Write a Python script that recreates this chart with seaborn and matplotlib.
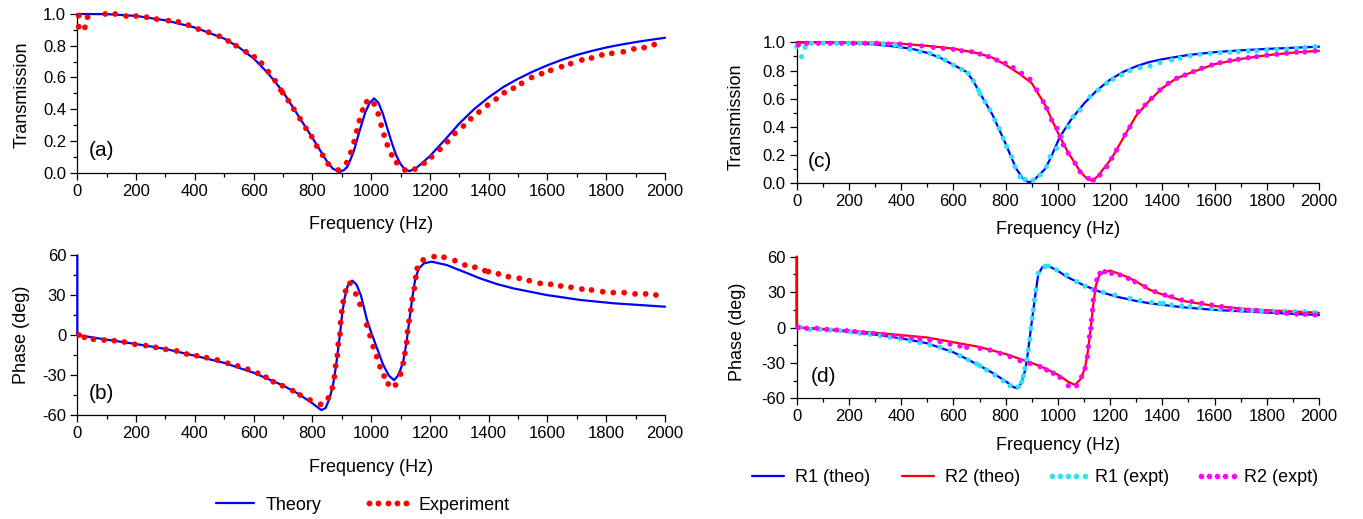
import numpy as np
import pandas as pd
import matplotlib
matplotlib.use("Agg")
import matplotlib.pyplot as plt
from matplotlib.lines import Line2D
from matplotlib.ticker import MultipleLocator
import seaborn as sns

# ---------------- data ----------------
# (a) transmission
fa_theo = [0,100,200,300,400,500,550,600,650,700,750,800,850,870,893,910,920,940,960,980,995,1010,1025,1040,1055,1070,1085,1100,1115,1130,1150,1170,1200,1250,1300,1350,1400,1450,1500,1550,1600,1650,1700,1750,1800,1850,1900,1950,2000]
ta_theo = [1.0,0.999,0.988,0.96,0.915,0.845,0.79,0.72,0.625,0.51,0.365,0.22,0.07,0.025,0.004,0.02,0.04,0.13,0.26,0.38,0.44,0.468,0.44,0.37,0.28,0.19,0.11,0.055,0.02,0.01,0.025,0.055,0.105,0.205,0.31,0.40,0.475,0.54,0.592,0.637,0.677,0.712,0.742,0.767,0.789,0.807,0.823,0.837,0.85]
fa_exp = [5,5,26,35,95,129,166,200,236,270,310,344,378,412,447,483,514,540,574,602,627,650,673,693,699,718,737,758,778,798,815,835,854,888,917,931,942,951,960,971,985,1010,1024,1034,1044,1055,1070,1087,1115,1149,1180,1206,1234,1260,1285,1314,1339,1367,1396,1425,1453,1484,1512,1546,1580,1611,1648,1679,1717,1750,1785,1819,1858,1894,1929,1963]
ta_exp = [0.99,0.92,0.916,0.98,1.0,1.0,0.987,0.987,0.98,0.968,0.958,0.95,0.93,0.905,0.885,0.86,0.83,0.80,0.762,0.73,0.69,0.636,0.58,0.52,0.504,0.454,0.40,0.34,0.28,0.227,0.168,0.11,0.055,0.017,0.063,0.128,0.195,0.263,0.328,0.395,0.447,0.433,0.37,0.30,0.237,0.175,0.112,0.063,0.017,0.023,0.059,0.10,0.147,0.195,0.248,0.294,0.34,0.382,0.425,0.464,0.504,0.532,0.563,0.60,0.624,0.645,0.668,0.687,0.71,0.723,0.742,0.752,0.762,0.78,0.788,0.807]

# (b) phase
fb_theo = [0,0,100,200,300,400,500,600,700,750,800,830,845,858,870,880,888,895,902,910,920,935,950,965,985,1000,1020,1040,1060,1078,1090,1100,1110,1120,1130,1140,1150,1162,1180,1206,1257,1314,1370,1427,1484,1597,1711,1824,2000]
pb_theo = [60,0,-3.5,-6.8,-10.5,-15.6,-21,-28.4,-38,-44,-51.4,-56.5,-55,-48,-38,-24,-10,3,17,28,37,41,38,30,12,2,-10,-22,-30.5,-34,-31,-26,-19,-6,11,28,42,50,54,55.2,52.7,47.7,42.7,38.4,35.1,30.1,26.4,23.9,21.3]
fb_exp = [6,24,55,91,126,160,196,233,267,301,338,372,406,440,476,512,546,580,614,642,667,698,733,758,792,828,854,868,875,879,885,888,894,896,900,905,913,928,948,962,985,996,1007,1019,1030,1044,1058,1083,1100,1109,1115,1121,1124,1129,1135,1140,1147,1152,1157,1177,1214,1248,1285,1319,1353,1387,1399,1433,1467,1504,1538,1575,1611,1645,1680,1717,1750,1788,1824,1861,1898,1934,1969]
pb_exp = [0,-1.7,-3.2,-3.8,-4.3,-5.3,-7,-8,-9.3,-10.8,-12,-14.3,-15.6,-17.1,-18.8,-21.3,-23.3,-25.8,-28.8,-31.8,-35.2,-38.2,-41.9,-45.2,-48.9,-52.2,-47.4,-39.7,-31.4,-23.3,-15.3,-7,0.8,9.3,17.6,25.1,33.1,38.9,30.9,23.1,7.5,-0.5,-8.8,-16.3,-23.9,-30.9,-36.9,-37.6,-29.4,-21.3,-13.8,-5.5,2.5,10.5,18.8,26.9,35.1,43.4,50.2,56.5,59,58.5,56,52.7,51,48.4,47.7,46,43.9,42.7,40.9,38.9,38.2,36.9,35.9,34.6,33.9,32.6,31.9,31.9,30.9,30.9,30.1]

# (c) transmission, R1 and R2
fc1_theo = [0,100,200,300,400,450,500,550,600,650,675,700,750,800,840,870,890,910,950,970,1008,1050,1100,1150,1200,1250,1300,1350,1400,1500,1600,1700,1800,1900,2000]
tc1_theo = [1.0,1.0,0.995,0.985,0.965,0.95,0.925,0.89,0.84,0.79,0.73,0.645,0.485,0.28,0.105,0.025,0.007,0.025,0.10,0.17,0.33,0.45,0.565,0.66,0.735,0.79,0.83,0.86,0.88,0.91,0.93,0.943,0.953,0.961,0.969]
fc2_theo = [0,300,400,500,600,700,750,800,850,900,950,1000,1040,1066,1085,1110,1130,1150,1180,1206,1250,1300,1350,1400,1450,1500,1600,1700,1800,1900,2000]
tc2_theo = [1.0,0.998,0.99,0.975,0.955,0.92,0.89,0.84,0.78,0.71,0.56,0.36,0.215,0.142,0.085,0.035,0.018,0.045,0.115,0.177,0.32,0.48,0.585,0.675,0.74,0.778,0.845,0.882,0.908,0.927,0.94]
fc1_exp = [0,19,32,57,102,153,198,242,287,332,376,396,434,472,510,542,568,600,632,657,677,695,702,721,740,759,775,791,804,823,836,855,874,906,932,957,970,996,1015,1040,1059,1085,1123,1155,1187,1212,1244,1276,1315,1353,1391,1436,1468,1506,1544,1583,1621,1659,1691,1729,1761,1800,1838,1876,1914,1946,1985]
tc1_exp = [0.969,0.898,0.964,0.993,0.993,0.993,0.993,0.993,0.993,0.988,0.981,0.969,0.95,0.933,0.922,0.898,0.874,0.839,0.808,0.78,0.725,0.662,0.633,0.579,0.52,0.449,0.39,0.319,0.26,0.189,0.118,0.047,0.028,0.023,0.059,0.118,0.189,0.248,0.331,0.40,0.472,0.52,0.614,0.662,0.709,0.738,0.768,0.799,0.82,0.832,0.855,0.874,0.887,0.903,0.915,0.922,0.926,0.929,0.933,0.938,0.940,0.945,0.95,0.952,0.957,0.964,0.969]
fc2_exp = [6,38,83,128,172,217,262,306,351,396,434,479,523,561,600,632,670,702,734,766,798,829,861,893,919,944,957,976,996,1008,1021,1040,1066,1085,1117,1136,1161,1187,1206,1225,1257,1276,1308,1334,1359,1391,1423,1455,1487,1519,1551,1589,1621,1659,1691,1729,1761,1800,1838,1876,1914,1946,1985]
tc2_exp = [0.981,0.993,0.993,0.993,0.993,0.993,0.993,0.993,0.988,0.988,0.981,0.974,0.964,0.957,0.95,0.94,0.933,0.917,0.898,0.874,0.851,0.82,0.78,0.738,0.662,0.579,0.532,0.449,0.39,0.331,0.272,0.213,0.142,0.082,0.035,0.023,0.059,0.118,0.177,0.236,0.343,0.40,0.508,0.555,0.603,0.662,0.709,0.745,0.768,0.792,0.816,0.839,0.855,0.87,0.879,0.891,0.898,0.908,0.915,0.922,0.929,0.931,0.938]

# (d) phase, R1 and R2
fd1_theo = [0,0,100,200,300,400,500,600,650,700,750,800,830,845,860,875,885,895,905,915,925,940,957,1000,1034,1097,1161,1225,1300,1353,1400,1480,1608,1736,1863,2000]
pd1_theo = [60,0,-1.5,-3.6,-6,-9.2,-13.4,-21,-26.5,-32.3,-38.5,-45.5,-50.5,-51.5,-47,-36,-22,-4,13,30,45,51,53,48,43,36,30.3,26.1,22.5,20.5,19.2,17.1,14.8,13.4,12,10.6]
fd2_theo = [0,0,100,200,300,400,500,600,700,800,900,950,1000,1040,1066,1090,1105,1115,1125,1135,1145,1160,1200,1264,1300,1353,1400,1480,1550,1608,1736,1863,2000]
pd2_theo = [60,0,-1.2,-2.7,-4.5,-6.4,-8.5,-12.5,-16.5,-22.5,-30,-34.5,-40,-46,-48.7,-43,-33,-20,-2,18,35,45,48.3,43,39,31.8,28,22.5,20,18,15.4,14,12.5]
fd1_exp = [13,51,89,128,166,204,242,281,319,357,396,434,472,510,549,587,625,657,689,702,727,759,791,817,849,862,868,874,881,887,893,897,902,906,910,916,925,951,963,995,1034,1072,1104,1136,1174,1219,1276,1315,1359,1391,1404,1436,1474,1506,1544,1589,1621,1666,1704,1742,1780,1831,1870,1908,1946,1985]
pd1_exp = [0.1,-1.6,-1.6,-2.1,-2.7,-3.5,-4.9,-5.8,-6.9,-8.3,-9.7,-11.4,-12.9,-14.8,-16.8,-19.9,-23.9,-27.5,-30.9,-32.6,-36.0,-40.3,-45.1,-49.3,-50.2,-45.9,-41.1,-34.6,-27.0,-19.1,-10.0,-0.7,7.8,14.8,23.3,31.8,45.9,51.6,52.1,48.7,44.5,38.8,35.0,31.8,29.8,27.5,24.7,22.7,21.3,20.5,20.5,19.1,18.2,17.7,16.8,16.2,15.4,14.8,14.8,14.3,14.0,13.7,13.7,13.4,13.4,12.8]
fd2_exp = [6,38,77,115,153,191,223,255,293,332,370,402,440,472,510,549,587,625,651,702,740,779,817,855,893,932,957,983,1008,1040,1072,1091,1104,1113,1117,1121,1126,1129,1133,1136,1142,1149,1161,1180,1206,1238,1270,1295,1334,1372,1410,1436,1474,1512,1551,1589,1627,1659,1691,1729,1761,1800,1838,1876,1914,1946,1985]
pd2_exp = [0.1,-0.7,-0.7,-1.6,-2.1,-2.7,-3.5,-4.4,-5.0,-5.8,-6.9,-7.8,-8.6,-9.7,-10.6,-12.0,-14.0,-15.7,-16.8,-17.7,-19.1,-21.9,-24.7,-28.1,-30.4,-33.2,-36.0,-38.8,-42.2,-49.3,-49.3,-41.7,-34.6,-24.7,-16.2,-7.8,-0.7,6.4,14.8,23.3,31.8,40.3,45.9,47.3,45.9,44.5,41.6,38.8,34.6,30.4,27.5,26.1,23.3,21.9,20.5,19.1,17.7,16.2,15.4,14.8,14.3,13.4,12.6,12.0,11.4,11.2,10.6]

freq_ticks = list(range(0, 2001, 200))
trans_ticks = [0.0, 0.2, 0.4, 0.6, 0.8, 1.0]
phase_ticks = [-60, -30, 0, 30, 60]

# ---------------- style ----------------
sns.set_theme(style="ticks")
plt.rcParams['font.family'] = ['Liberation Sans', 'DejaVu Sans']
plt.rcParams.update({
    'axes.unicode_minus': False,
    'axes.linewidth': 0.9,
    'xtick.major.width': 0.9, 'ytick.major.width': 0.9,
    'xtick.minor.width': 0.9, 'ytick.minor.width': 0.9,
    'xtick.major.size': 5, 'ytick.major.size': 5,
    'xtick.minor.size': 3, 'ytick.minor.size': 3,
    'xtick.direction': 'out', 'ytick.direction': 'out',
    'xtick.labelsize': 12, 'ytick.labelsize': 12,
    'axes.labelsize': 13,
    'xtick.color': 'black', 'ytick.color': 'black',
    'axes.edgecolor': 'black', 'text.color': 'black', 'axes.labelcolor': 'black',
})

BLUE, RED, CYAN, MAGENTA = '#0000ff', '#ff0000', '#2fe4f2', '#ff00ff'
LW = 1.6

W, H = 1363, 519
fig = plt.figure(figsize=(W / 100, H / 100), dpi=100)

def add_ax(left, top, right, bottom):
    return fig.add_axes([left / W, 1 - bottom / H, (right - left) / W, (bottom - top) / H])

ax_a = add_ax(77.3, 14.0, 665.0, 172.7)
ax_b = add_ax(77.3, 255.3, 665.0, 414.7)
ax_c = add_ax(796.7, 42.3, 1319.0, 183.3)
ax_d = add_ax(796.7, 256.7, 1319.0, 398.3)

def line(ax, x, y, c, z=3):
    sns.lineplot(x=x, y=y, ax=ax, color=c, linewidth=LW, estimator=None, sort=False,
                 legend=False, zorder=z, clip_on=False)

def dots(ax, x, y, c, s):
    sns.scatterplot(x=x, y=y, ax=ax, color=c, s=s, linewidth=0, edgecolor='none',
                    legend=False, zorder=4, clip_on=False)

line(ax_a, fa_theo, ta_theo, BLUE)
dots(ax_a, fa_exp, ta_exp, RED, 17)
line(ax_b, fb_theo, pb_theo, BLUE)
dots(ax_b, fb_exp, pb_exp, RED, 17)

line(ax_c, fc1_theo, tc1_theo, BLUE)
line(ax_c, fc2_theo, tc2_theo, RED, 3.1)
dots(ax_c, fc1_exp, tc1_exp, CYAN, 14)
dots(ax_c, fc2_exp, tc2_exp, MAGENTA, 14)
line(ax_d, fd1_theo, pd1_theo, BLUE)
line(ax_d, fd2_theo, pd2_theo, RED, 3.1)
dots(ax_d, fd1_exp, pd1_exp, CYAN, 14)
dots(ax_d, fd2_exp, pd2_exp, MAGENTA, 14)

def style(ax, kind, tag, xlab_y, ylab_x, ylab_y):
    ax.set_xlim(0, 2000)
    ax.set_xticks(freq_ticks)
    ax.xaxis.set_minor_locator(MultipleLocator(100))
    if kind == 't':
        ax.set_ylim(0, 1)
        ax.set_yticks(trans_ticks)
        ax.set_yticklabels([f"{v:.1f}" for v in trans_ticks])
        ax.yaxis.set_minor_locator(MultipleLocator(0.1))
        ax.set_ylabel("Transmission")
    else:
        ax.set_ylim(-60, 60)
        ax.set_yticks(phase_ticks)
        ax.set_yticklabels([str(v) for v in phase_ticks])
        ax.yaxis.set_minor_locator(MultipleLocator(15))
        ax.set_ylabel("Phase (deg)")
    ax.set_xlabel("Frequency (Hz)")
    ax.xaxis.set_label_coords(0.5, xlab_y)
    ax.yaxis.set_label_coords(ylab_x, ylab_y)
    sns.despine(ax=ax)
    ax.tick_params(which='both', pad=3)
    ax.text(tag[1], tag[2], tag[0], transform=ax.transAxes, fontsize=15, ha='left', va='center')

style(ax_a, 't', ("(a)", 0.020, 0.14), -0.275, -0.080, 0.49)
style(ax_b, 'p', ("(b)", 0.020, 0.135), -0.28, -0.080, 0.5)
style(ax_c, 't', ("(c)", 0.022, 0.155), -0.27, -0.100, 0.475)
style(ax_d, 'p', ("(d)", 0.026, 0.155), -0.275, -0.097, 0.47)

h_theory = Line2D([], [], color=BLUE, lw=LW)
h_exp = Line2D([], [], color=RED, ls='', marker='o', markersize=4.2, markeredgewidth=0)
fig.legend([h_theory, h_exp], ["Theory", "Experiment"], loc='center',
           bbox_to_anchor=(360 / W, 1 - 505 / H), ncol=2, frameon=False,
           fontsize=13, numpoints=5, handlelength=2.7, handletextpad=0.35,
           columnspacing=2.3, borderpad=0)

h1 = Line2D([], [], color=BLUE, lw=LW)
h2 = Line2D([], [], color=RED, lw=LW)
h3 = Line2D([], [], color=CYAN, ls='', marker='o', markersize=4.0, markeredgewidth=0)
h4 = Line2D([], [], color=MAGENTA, ls='', marker='o', markersize=4.0, markeredgewidth=0)
fig.legend([h1, h2, h3, h4], ["R1 (theo)", "R2 (theo)", "R1 (expt)", "R2 (expt)"],
           loc='center', bbox_to_anchor=(1032.5 / W, 1 - 478 / H), ncol=4, frameon=False,
           fontsize=13, numpoints=5, handlelength=2.4, handletextpad=0.3,
           columnspacing=1.45, borderpad=0)

fig.savefig("out.png", dpi=100)
